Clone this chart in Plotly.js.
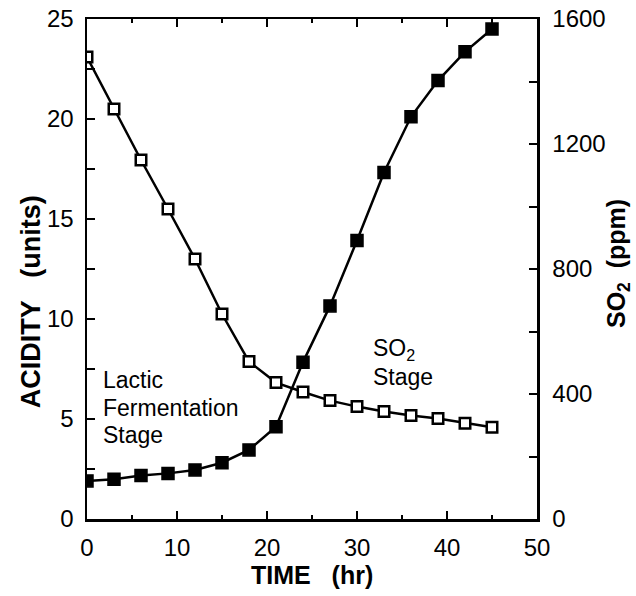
<!DOCTYPE html>
<html><head><meta charset="utf-8">
<script src="https://cdn.plot.ly/plotly-3.0.1.min.js"></script>
<style>html,body{margin:0;padding:0;background:#fff}</style>
</head><body>
<div id="chart" style="width:636px;height:596px"></div>
<script>
// Time (hr)
const time = [0,3,6,9,12,15,18,21,24,27,30,33,36,39,42,45];
// Acidity (units), open squares, left axis
const acidity = [23.1,20.5,17.95,15.5,13.0,10.25,7.87,6.82,6.35,5.92,5.62,5.37,5.17,5.02,4.79,4.59];
// SO2 (ppm), filled squares, right axis
const so2 = [122,127,139,146,157,180,221,295,502,682,891,1109,1287,1403,1495,1568];

const xTicks = [0,10,20,30,40,50];
const yTicks = [0,5,10,15,20,25];
const y2Ticks = [0,400,800,1200,1600];

const FONT = 'Liberation Sans, Arial, Helvetica, sans-serif';
const tickFont = {family: FONT, size: 24, color: '#000'};

const traces = [
  {x: time, y: so2, yaxis: 'y2', type: 'scatter', mode: 'lines+markers',
   line: {color: '#000', width: 2.5},
   marker: {symbol: 'square', size: 12, color: '#000', line: {color: '#000', width: 1.5}},
   showlegend: false, hoverinfo: 'skip'},
  {x: time, y: acidity, yaxis: 'y', type: 'scatter', mode: 'lines+markers',
   line: {color: '#000', width: 2.5},
   marker: {symbol: 'square', size: 10.5, color: '#fff', line: {color: '#000', width: 2.5}},
   showlegend: false, hoverinfo: 'skip'}
];

const annFont = {family: FONT, size: 23, color: '#000'};
const layout = {
  width: 636, height: 596,
  margin: {l: 87, r: 99, t: 19, b: 77, pad: 0},
  paper_bgcolor: '#fff', plot_bgcolor: '#fff',
  showlegend: false,
  xaxis: {range: [0, 50], tickvals: xTicks, ticktext: xTicks.map(String),
    ticks: 'inside', ticklen: 8, tickwidth: 2, tickcolor: '#000',
    minor: {dtick: 5, tick0: 0, ticks: 'inside', ticklen: 4, tickwidth: 2, tickcolor: '#000'},
    showline: true, linewidth: 2.5, linecolor: '#000', mirror: 'ticks',
    showgrid: false, zeroline: false, tickfont: tickFont, ticklabelstandoff: 6},
  yaxis: {range: [0, 25], tickvals: yTicks, ticktext: yTicks.map(String),
    ticks: 'inside', ticklen: 8, tickwidth: 2, tickcolor: '#000',
    minor: {dtick: 2.5, tick0: 0, ticks: 'inside', ticklen: 8, tickwidth: 2, tickcolor: '#000'},
    showline: true, linewidth: 2.5, linecolor: '#000',
    showgrid: false, zeroline: false, tickfont: tickFont, ticklabelstandoff: 6},
  yaxis2: {range: [0, 1600], tickvals: y2Ticks, ticktext: y2Ticks.map(String),
    overlaying: 'y', side: 'right',
    ticks: 'inside', ticklen: 8, tickwidth: 2, tickcolor: '#000',
    minor: {dtick: 200, tick0: 0, ticks: 'inside', ticklen: 8, tickwidth: 2, tickcolor: '#000'},
    showline: true, linewidth: 2.5, linecolor: '#000',
    showgrid: false, zeroline: false, tickfont: tickFont, ticklabelstandoff: 8},
  annotations: [
    {text: '<b>TIME\u00a0\u00a0\u00a0(hr)</b>', xref: 'paper', yref: 'paper', x: 0.5, y: -0.112,
     xanchor: 'center', yanchor: 'middle', showarrow: false, font: {family: FONT, size: 25, color: '#000'}},
    {text: '<b>ACIDITY\u00a0\u00a0\u00a0(units)</b>', xref: 'paper', yref: 'paper', x: -0.125, y: 0.435,
     xanchor: 'center', yanchor: 'middle', textangle: -90, showarrow: false, font: {family: FONT, size: 27, color: '#000'}},
    {text: '<b>SO<sub>2</sub>\u00a0\u00a0(ppm)</b>', xref: 'paper', yref: 'paper', x: 1.18, y: 0.51,
     xanchor: 'center', yanchor: 'middle', textangle: -90, showarrow: false, font: {family: FONT, size: 25, color: '#000'}},
    {text: 'Lactic', xref: 'x', yref: 'y', x: 1.6, y: 6.95, xanchor: 'left', yanchor: 'middle', showarrow: false, font: annFont},
    {text: 'Fermentation', xref: 'x', yref: 'y', x: 1.6, y: 5.55, xanchor: 'left', yanchor: 'middle', showarrow: false, font: annFont},
    {text: 'Stage', xref: 'x', yref: 'y', x: 1.6, y: 4.2, xanchor: 'left', yanchor: 'middle', showarrow: false, font: annFont},
    {text: 'SO<sub>2</sub>', xref: 'x', yref: 'y', x: 31.6, y: 8.5, xanchor: 'left', yanchor: 'middle', showarrow: false, font: annFont},
    {text: 'Stage', xref: 'x', yref: 'y', x: 31.6, y: 7.1, xanchor: 'left', yanchor: 'middle', showarrow: false, font: annFont}
  ]
};

Plotly.newPlot('chart', traces, layout, {staticPlot: true, displayModeBar: false});
</script>
</body></html>
